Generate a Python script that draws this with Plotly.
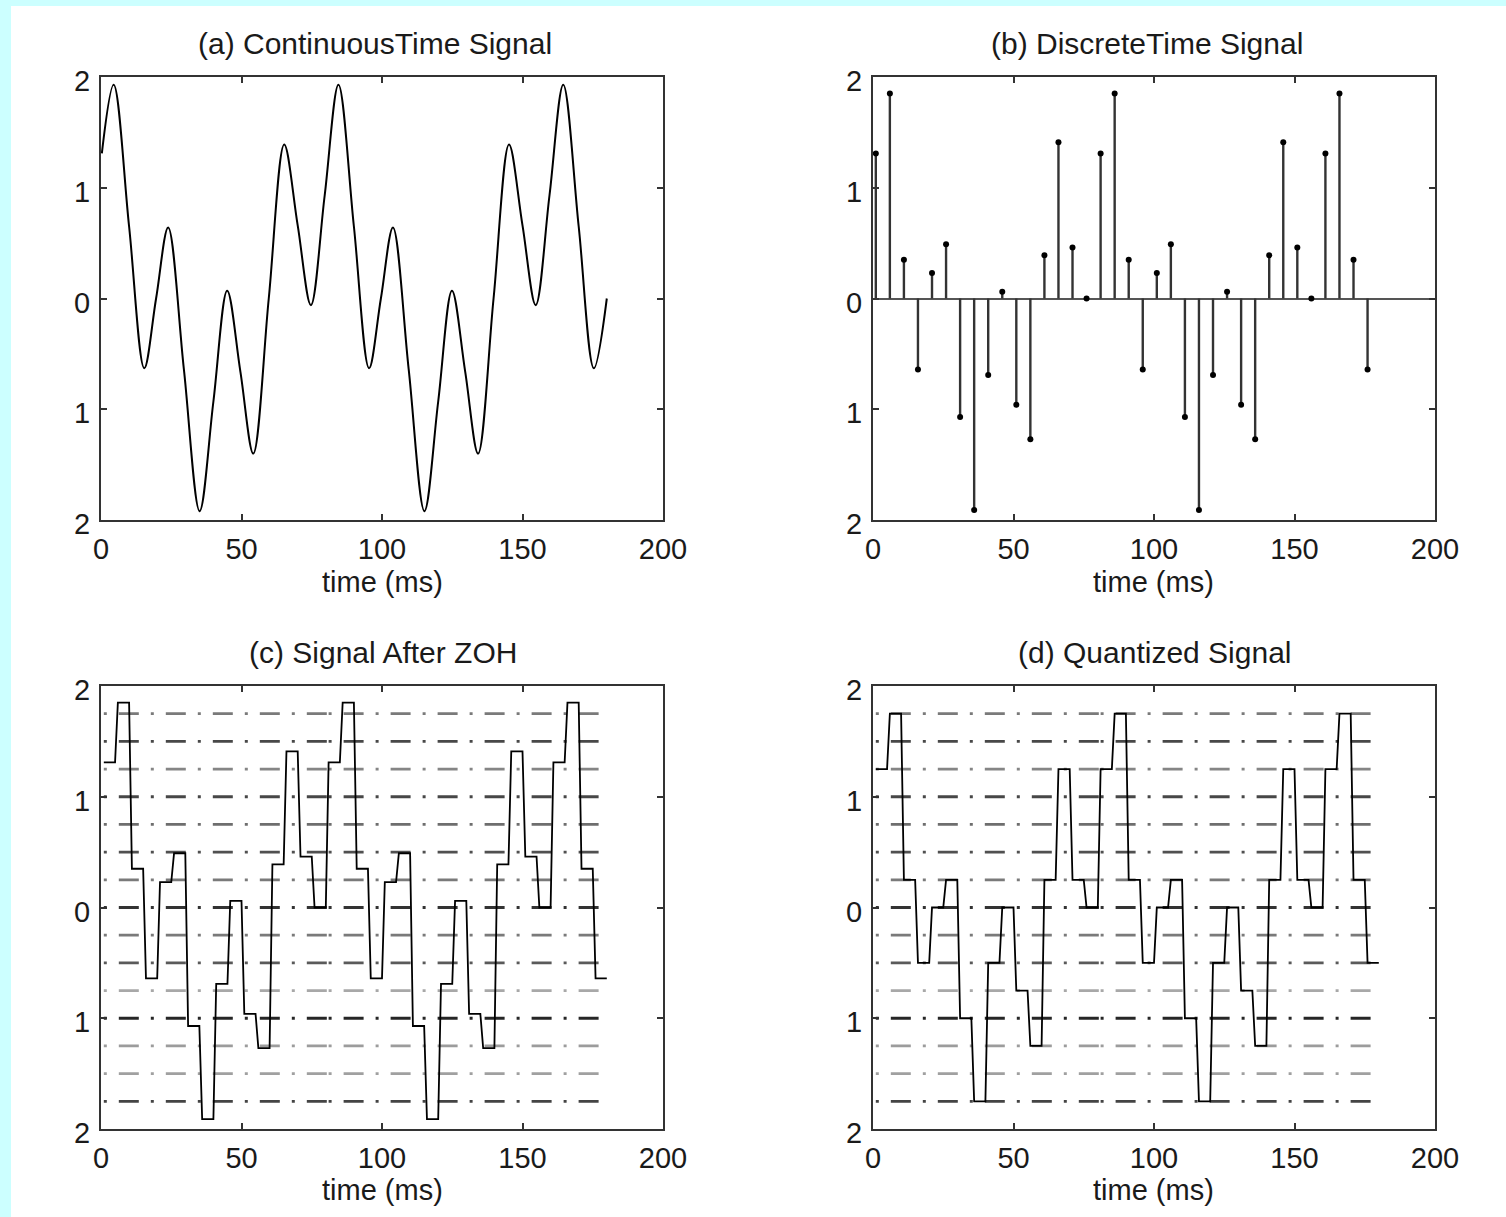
import plotly.graph_objects as go

W, H = 1506, 1217
FONT = "Liberation Sans, Arial, sans-serif"

# ---------------- data ----------------
# (a) continuous-time signal: extrema and mid-edge points
cont_t = [0.3, 4.5, 10.0, 15.4, 19.6, 23.9, 29.5, 35.1, 40.0, 44.9, 49.6, 54.2,
          59.7, 65.2, 70.0, 74.7, 79.6, 84.5, 90.0, 95.4, 99.6, 103.9, 109.5,
          115.1, 120.0, 124.9, 129.6, 134.2, 139.7, 145.2, 150.0, 154.7, 159.6,
          164.5, 170.0, 175.4, 180.0]
cont_v = [1.31, 1.93, 0.65, -0.63, 0.00, 0.64, -0.64, -1.92, -0.93, 0.07, -0.66, -1.40,
          0.00, 1.39, 0.66, -0.06, 0.93, 1.93, 0.65, -0.63, 0.00, 0.64, -0.64,
          -1.92, -0.93, 0.07, -0.66, -1.40, 0.00, 1.39, 0.66, -0.06, 0.93,
          1.93, 0.65, -0.63, 0.00]

# (b) discrete-time samples (every 5 ms)
sample_t = list(range(1, 180, 5))
sample_v = [1.31, 1.85, 0.35, -0.64, 0.23, 0.49, -1.07, -1.91, -0.69, 0.06, -0.96, -1.27,
            0.39, 1.41, 0.46, 0.00,
            1.31, 1.85, 0.35, -0.64, 0.23, 0.49, -1.07, -1.91, -0.69, 0.06, -0.96, -1.27,
            0.39, 1.41, 0.46, 0.00,
            1.31, 1.85, 0.35, -0.64]

# (d) quantized sample values
quant_v = [1.25, 1.75, 0.25, -0.50, 0.00, 0.25, -1.00, -1.75, -0.50, 0.00, -0.75, -1.25,
           0.25, 1.25, 0.25, 0.00,
           1.25, 1.75, 0.25, -0.50, 0.00, 0.25, -1.00, -1.75, -0.50, 0.00, -0.75, -1.25,
           0.25, 1.25, 0.25, 0.00,
           1.25, 1.75, 0.25, -0.50]

# quantization levels drawn in (c) and (d)
levels = [1.75, 1.5, 1.25, 1.0, 0.75, 0.5, 0.25, 0.0,
          -0.25, -0.5, -0.75, -1.0, -1.25, -1.5, -1.75]
level_colors = ["#7a7a7a", "#484848", "#858585", "#474747", "#6e6e6e", "#505050", "#7a7a7a",
                "#333333", "#7a7a7a", "#5a5a5a", "#a8a8a8", "#262626", "#9c9c9c", "#a0a0a0",
                "#444444"]

hold_ms = 4  # ZOH hold on a 1 ms grid

x_ticks = [0, 50, 100, 150, 200]
y_ticks = [-2, -1, 0, 1, 2]
y_ticktext = ["2", "1", "0", "1", "2"]

titles = ["(a) ContinuousTime Signal", "(b) DiscreteTime Signal",
          "(c) Signal After ZOH", "(d) Quantized Signal"]
xlabel = "time (ms)"

# ---------------- figure ----------------
fig = go.Figure()

# (a)
fig.add_trace(go.Scatter(x=cont_t, y=cont_v, mode="lines",
                         line=dict(color="black", width=2, shape="spline", smoothing=1.0),
                         xaxis="x", yaxis="y", showlegend=False, hoverinfo="skip"))

# (b) stems
stem_x, stem_y = [], []
for t, v in zip(sample_t, sample_v):
    stem_x += [t, t, None]
    stem_y += [0, v, None]
fig.add_trace(go.Scatter(x=stem_x, y=stem_y, mode="lines",
                         line=dict(color="#333333", width=2.4),
                         xaxis="x2", yaxis="y2", showlegend=False, hoverinfo="skip"))
fig.add_trace(go.Scatter(x=sample_t, y=sample_v, mode="markers",
                         marker=dict(color="black", size=6),
                         xaxis="x2", yaxis="y2", showlegend=False, hoverinfo="skip"))


def level_traces(xa, ya):
    segs = [(sample_t[0], sample_t[16]), (sample_t[16], sample_t[-1] + hold_ms)]
    for lv, col in zip(levels, level_colors):
        xs, ys = [], []
        for a, b in segs:
            xs += [a, b, None]
            ys += [lv, lv, None]
        fig.add_trace(go.Scatter(x=xs, y=ys, mode="lines",
                                 line=dict(color=col, width=2.8, dash="3px,12px,20px,12px"),
                                 xaxis=xa, yaxis=ya, showlegend=False, hoverinfo="skip"))


def zoh(values):
    xs, ys = [], []
    for t, v in zip(sample_t, values):
        xs += [t, t + hold_ms]
        ys += [v, v]
    return xs, ys


# (c)
level_traces("x3", "y3")
zx, zy = zoh(sample_v)
fig.add_trace(go.Scatter(x=zx, y=zy, mode="lines", line=dict(color="black", width=1.8),
                         xaxis="x3", yaxis="y3", showlegend=False, hoverinfo="skip"))
# (d)
level_traces("x4", "y4")
qx, qy = zoh(quant_v)
fig.add_trace(go.Scatter(x=qx, y=qy, mode="lines", line=dict(color="black", width=1.8),
                         xaxis="x4", yaxis="y4", showlegend=False, hoverinfo="skip"))

# ---------------- layout ----------------
colL = [101 / W, 663 / W]
colR = [873 / W, 1435 / W]
rowT = [1 - 520 / H, 1 - 77 / H]
rowB = [1 - 1129 / H, 1 - 686 / H]

tickfont = dict(family=FONT, size=29, color="#1a1a1a")


def xax(domain, anchor):
    return dict(domain=domain, anchor=anchor, range=[0, 200], tickvals=x_ticks,
                ticks="inside", ticklen=6, tickwidth=1.5, tickcolor="#333",
                showline=True, linecolor="#333", linewidth=2, mirror="ticks",
                showgrid=False, zeroline=False, tickfont=tickfont,
                ticklabelstandoff=2, automargin=False)


def yax(domain, anchor, zero=False):
    return dict(domain=domain, anchor=anchor, range=[-2, 2], tickvals=y_ticks,
                ticktext=y_ticktext, ticks="inside", ticklen=6, tickwidth=1.5,
                tickcolor="#333", showline=True, linecolor="#333", linewidth=2,
                mirror="ticks", showgrid=False, zeroline=zero, zerolinecolor="#555",
                zerolinewidth=2, tickfont=tickfont, ticklabelstandoff=3,
                ticklabelshift=4, automargin=False)


annotations = []
title_pos = [(375, 43), (1146.5, 43), (383, 652), (1154.5, 652)]
for txt, (px, py) in zip(titles, title_pos):
    annotations.append(dict(text=txt, x=px / W, y=1 - py / H, xref="paper", yref="paper",
                            showarrow=False, xanchor="center", yanchor="middle",
                            font=dict(family=FONT, size=30, color="#1a1a1a")))
for px, py in [(382, 582), (1153, 582), (382, 1190), (1153, 1190)]:
    annotations.append(dict(text=xlabel, x=px / W, y=1 - py / H, xref="paper", yref="paper",
                            showarrow=False, xanchor="center", yanchor="middle",
                            font=dict(family=FONT, size=29, color="#1a1a1a")))

fig.update_layout(
    width=W, height=H,
    autosize=False,
    margin=dict(l=0, r=0, t=0, b=0, pad=0, autoexpand=False),
    paper_bgcolor="#ccffff",
    plot_bgcolor="white",
    showlegend=False,
    xaxis=xax(colL, "y"), yaxis=yax(rowT, "x"),
    xaxis2=xax(colR, "y2"), yaxis2=yax(rowT, "x2", zero=True),
    xaxis3=xax(colL, "y3"), yaxis3=yax(rowB, "x3"),
    xaxis4=xax(colR, "y4"), yaxis4=yax(rowB, "x4"),
    annotations=annotations,
    shapes=[dict(type="rect", xref="paper", yref="paper", x0=11 / W, x1=1,
                 y0=0, y1=1 - 6 / H, fillcolor="white", line=dict(width=0), layer="below")],
)

fig.write_html(
    "out.html",
    config={"displayModeBar": False},
    post_script="document.body.style.margin='0';document.body.style.overflow='hidden';"
                "document.body.style.background='#ccffff';",
)
